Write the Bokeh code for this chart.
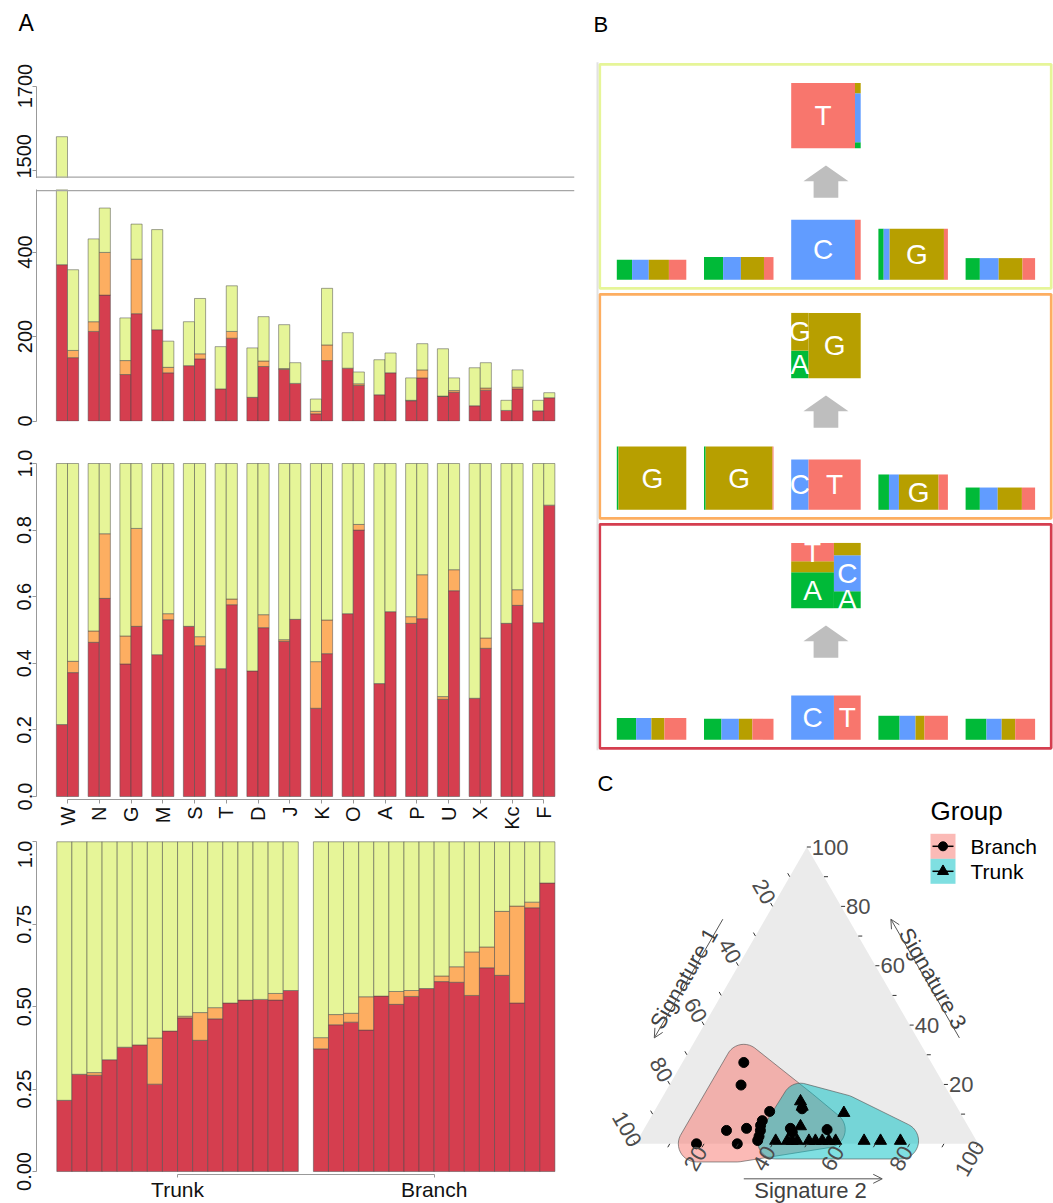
import math
from bokeh.plotting import figure
from bokeh.layouts import row, column
from bokeh.models import Span, FixedTicker, Range1d, ColumnDataSource, Arrow, OpenHead, PrintfTickFormatter
from bokeh.core.properties import value
from bokeh.embed import file_html
from bokeh.resources import INLINE

FONT = "Liberation Sans"
RED, ORANGE, GREEN = "#D53E4F", "#FDAE61", "#E6F598"

# ---------------- data: panel A ----------------
patients = ["W", "N", "G", "M", "S", "T", "D", "J", "K", "O", "A", "P", "U", "X", "Kc", "F"]

# mutation counts (segments: red / orange / green), trunk and branch bar of each patient
trunk_red_n = [370, 212, 110, 216, 131, 76, 56, 122, 17, 125, 62, 48, 58, 36, 25, 24]
trunk_orange_n = [0, 23, 33, 0, 0, 0, 0, 2, 6, 0, 0, 1, 1, 0, 0, 0]
trunk_green_n = [1210, 196, 101, 237, 104, 100, 117, 104, 29, 84, 83, 53, 112, 90, 24, 25]
branch_red_n = [150, 298, 254, 114, 147, 196, 129, 89, 143, 84, 114, 102, 68, 73, 76, 55]
branch_orange_n = [17, 101, 129, 13, 12, 16, 13, 0, 37, 4, 0, 19, 4, 5, 4, 0]
branch_green_n = [191, 105, 83, 62, 131, 108, 105, 49, 134, 28, 47, 62, 30, 60, 41, 12]

# proportions (green = remainder)
trunk_red_p = [0.216, 0.463, 0.398, 0.426, 0.511, 0.384, 0.377, 0.466, 0.265, 0.549, 0.339, 0.520, 0.292, 0.295, 0.520, 0.522]
trunk_orange_p = [0.0, 0.034, 0.084, 0.0, 0.0, 0.0, 0.0, 0.005, 0.140, 0.0, 0.0, 0.020, 0.008, 0.0, 0.0, 0.0]
branch_red_p = [0.372, 0.595, 0.511, 0.531, 0.453, 0.576, 0.507, 0.532, 0.429, 0.800, 0.555, 0.534, 0.618, 0.445, 0.574, 0.875]
branch_orange_p = [0.034, 0.194, 0.294, 0.018, 0.027, 0.017, 0.039, 0.0, 0.101, 0.017, 0.0, 0.132, 0.063, 0.031, 0.047, 0.0]

group_labels = ["Trunk", "Branch"]

# ---------------- data: panel B (sequence logos) ----------------
bases = ["A", "C", "G", "T"]
base_colors = {"A": "#00BA38", "C": "#619CFF", "G": "#B79F00", "T": "#F8766D"}
logo_heights = [
    [0.306, 0.348, 0.919, 0.781, 0.332],
    [0.969, 0.969, 0.770, 0.541, 0.341],
    [0.332, 0.322, 0.678, 0.368, 0.322],
]
logo_freqs = [
    [[0.22, 0.24, 0.29, 0.25], [0.275, 0.256, 0.332, 0.137], [0.0, 0.918, 0.0, 0.082],
     [0.076, 0.086, 0.781, 0.057], [0.205, 0.271, 0.343, 0.181]],
    [[0.024, 0.0, 0.976, 0.0], [0.024, 0.0, 0.962, 0.014], [0.0, 0.25, 0.0, 0.75],
     [0.152, 0.143, 0.571, 0.134], [0.205, 0.257, 0.348, 0.19]],
    [[0.278, 0.22, 0.187, 0.315], [0.251, 0.251, 0.194, 0.304], [0.0, 0.615, 0.0, 0.385],
     [0.305, 0.229, 0.129, 0.337], [0.30, 0.219, 0.195, 0.286]],
]
alt_freqs = [
    {"C": [0.0, 0.0, 0.0, 1.0], "T": [0.092, 0.75, 0.158, 0.0]},
    {"C": [0.423, 0.0, 0.577, 0.0], "T": [0.0, 0.0, 1.0, 0.0]},
    {"C": [0.551, 0.0, 0.168, 0.281], "T": [0.26, 0.551, 0.189, 0.0]},
]
logo_letters = [{3: ["C"], 4: ["G"]}, {1: ["G"], 2: ["G"], 3: ["C", "T"], 4: ["G"]}, {3: ["C", "T"]}]
alt_letters = [{"C": ["T"], "T": []}, {"C": ["A", "G"], "T": ["G"]}, {"C": ["A", "T"], "T": ["A", "C"]}]
box_colors = [GREEN, ORANGE, RED]

# ---------------- data: panel C (ternary, % signature 1/2/3) ----------------
branch_s1 = [54.7, 59.3, 55.4, 71.2, 65.0, 60.4, 61.3, 62.7, 63.8, 82.2, 70.3, 52.2, 52.3, 41.7, 45.5, 59.1]
branch_s2 = [17.9, 20.9, 33.7, 24.3, 29.8, 33.4, 34.2, 34.8, 35.1, 17.8, 29.7, 42.6, 43.8, 53.5, 42.7, 33.1]
branch_s3 = [27.4, 19.8, 10.9, 4.5, 5.2, 6.2, 4.5, 2.5, 1.1, 0.0, 0.0, 5.2, 3.9, 4.8, 11.8, 7.8]
trunk_s1 = [44.7, 45.1, 34.0, 48.9, 58.6, 55.2, 53.8, 52.3, 48.9, 47.0, 45.0, 43.1, 41.1, 32.8, 28.0, 22.2]
trunk_s2 = [41.0, 42.4, 55.6, 45.2, 40.4, 43.8, 45.2, 46.7, 50.1, 52.0, 54.0, 55.9, 57.9, 66.2, 71.0, 76.8]
trunk_s3 = [14.3, 12.5, 10.4, 5.9, 1.0, 1.0, 1.0, 1.0, 1.0, 1.0, 1.0, 1.0, 1.0, 1.0, 1.0, 1.0]
tern_ticks = [20, 40, 60, 80, 100]


# ---------------- helpers ----------------
def new_fig(width, height, xr, yr, left=0, right=0, top=0, bottom=0, xaxis=False, yaxis=False):
    p = figure(width=width, height=height, x_range=Range1d(*xr), y_range=Range1d(*yr),
               output_backend="svg", toolbar_location=None,
               x_axis_location="below" if xaxis else None,
               y_axis_location="left" if yaxis else None,
               min_border_left=left, min_border_right=right,
               min_border_top=top, min_border_bottom=bottom)
    p.xgrid.visible = False
    p.ygrid.visible = False
    p.outline_line_color = None
    p.background_fill_color = "white"
    p.border_fill_color = "white"
    return p


def style_axis(ax, orientation):
    ax.major_label_orientation = orientation
    ax.major_label_text_font = FONT
    ax.major_label_text_font_size = "20px"
    ax.major_label_text_color = "#111111"
    ax.axis_line_color = "#999999"
    ax.major_tick_line_color = "#999999"
    ax.minor_tick_line_color = None
    ax.major_tick_out = 4
    ax.major_tick_in = 0
    ax.major_label_standoff = 1


def stack(xs, segs):
    x, b, t, c = [], [], [], []
    for i, xv in enumerate(xs):
        base = 0.0
        for vals, col in segs:
            v = vals[i]
            if v > 0:
                x.append(xv); b.append(base); t.append(base + v); c.append(col)
            base += v
    return dict(x=x, bottom=b, top=t, color=c)


def draw_bars(p, data, width):
    p.vbar(x="x", bottom="bottom", top="top", width=width, fill_color="color",
           line_color="#4a4a4a", line_alpha=0.5, line_width=1, source=ColumnDataSource(data))


def label_text(p, x, y, t, size="22px"):
    p.text(x=[x], y=[y], text=[t], text_font=value(FONT), text_font_size=size,
           text_color="black", text_align="left", text_baseline="middle")


n = len(patients)
idx = list(range(n))
BW = 0.35
trunk_x = [i - BW / 2 for i in idx]
branch_x = [i + BW / 2 for i in idx]
count_data = stack(trunk_x + branch_x,
                   [(trunk_red_n + branch_red_n, RED),
                    (trunk_orange_n + branch_orange_n, ORANGE),
                    (trunk_green_n + branch_green_n, GREEN)])
t_green_p = [1 - r - o for r, o in zip(trunk_red_p, trunk_orange_p)]
b_green_p = [1 - r - o for r, o in zip(branch_red_p, branch_orange_p)]
prop_data = stack(trunk_x + branch_x,
                  [(trunk_red_p + branch_red_p, RED),
                   (trunk_orange_p + branch_orange_p, ORANGE),
                   (t_green_p + b_green_p, GREEN)])

# ---------------- left column geometry ----------------
LW = 585
BL_, BR_ = 36, 11
FW = LW - BL_ - BR_             # frame width (px)
PAIR = 31.75                    # px per patient
x0 = -(67 - 36) / PAIR
XR = (x0, x0 + FW / PAIR)
K = 200 / 84.5                  # counts per px

# header with panel letter (as the figure title)
hdr = new_fig(LW, 60, XR, (0, 1), left=BL_, right=BR_, top=40)
hdr.title.text = "A"
hdr.title.text_font = FONT
hdr.title.text_font_size = "23px"
hdr.title.text_font_style = "normal"
hdr.title.text_color = "black"
hdr.title.align = "left"
hdr.title.offset = -18
hdr.title.standoff = 10

# upper part of broken count axis
up = new_fig(LW, 118, XR, (1500 - 8 * K, 1500 + 110 * K), left=BL_, right=BR_, yaxis=True)
draw_bars(up, count_data, BW)
style_axis(up.yaxis[0], "parallel")
up.yaxis[0].ticker = FixedTicker(ticks=[1500, 1700])
up.yaxis[0].bounds = (1500 - 8 * K, 1700)
up.add_layout(Span(location=1500 - 6.7 * K, dimension="width", line_color="#A6A6A6", line_width=1.3))

# lower part of broken count axis
low = new_fig(LW, 256, XR, (-0.5 * K, 231.5 * K), left=BL_, right=BR_, top=11, bottom=13, yaxis=True)
draw_bars(low, count_data, BW)
style_axis(low.yaxis[0], "parallel")
low.yaxis[0].ticker = FixedTicker(ticks=[0, 200, 400])
low.yaxis[0].bounds = (0, 231.5 * K)
low.add_layout(Span(location=230.3 * K, dimension="width", line_color="#A6A6A6", line_width=1.3))

# proportions per patient
mid = new_fig(LW, 406, XR, (-3 / 333, 336 / 333), left=BL_, right=BR_, top=26, bottom=41,
              xaxis=True, yaxis=True)
draw_bars(mid, prop_data, BW)
style_axis(mid.yaxis[0], "parallel")
mid.yaxis[0].ticker = FixedTicker(ticks=[0, 0.2, 0.4, 0.6, 0.8, 1])
mid.yaxis[0].formatter = PrintfTickFormatter(format="%.1f")
mid.yaxis[0].bounds = (0, 1)
style_axis(mid.xaxis[0], math.pi / 2)
mid.xaxis[0].ticker = FixedTicker(ticks=idx)
mid.xaxis[0].major_label_overrides = {i: patients[i] for i in idx}
mid.xaxis[0].bounds = (0, n - 1)
mid.xaxis[0].major_label_standoff = 3

# sorted proportions, trunk vs branch
t_order = sorted(idx, key=lambda i: trunk_red_p[i] + trunk_orange_p[i])
b_order = sorted(idx, key=lambda i: branch_red_p[i] + branch_orange_p[i])
SLOT = (554.4 - 56.3) / (2 * n + 1)
sx = [k + 0.5 for k in range(n)] + [n + 1 + k + 0.5 for k in range(n)]
sorted_data = stack(sx,
                    [([trunk_red_p[i] for i in t_order] + [branch_red_p[i] for i in b_order], RED),
                     ([trunk_orange_p[i] for i in t_order] + [branch_orange_p[i] for i in b_order], ORANGE),
                     ([t_green_p[i] for i in t_order] + [b_green_p[i] for i in b_order], GREEN)])
sx0 = -(56.3 - 36) / SLOT
bot = new_fig(LW, 363, (sx0, sx0 + FW / SLOT), (-3 / 332.7, 334 / 332.7), left=BL_, right=BR_,
              top=0, bottom=26, xaxis=True, yaxis=True)
draw_bars(bot, sorted_data, 1.0)
style_axis(bot.yaxis[0], "parallel")
bot.yaxis[0].ticker = FixedTicker(ticks=[0, 0.25, 0.5, 0.75, 1])
bot.yaxis[0].formatter = PrintfTickFormatter(format="%.2f")
bot.yaxis[0].major_label_overrides = {1: "1.0"}
bot.yaxis[0].bounds = (0, 1)
style_axis(bot.xaxis[0], "horizontal")
bot.xaxis[0].ticker = FixedTicker(ticks=[n / 2, n + 1 + n / 2])
bot.xaxis[0].major_label_overrides = {n // 2: group_labels[0], n + 1 + n // 2: group_labels[1]}
bot.xaxis[0].bounds = (n / 2, n + 1 + n / 2)
bot.xaxis[0].major_label_text_font_size = "21px"
bot.xaxis[0].major_tick_out = 3
bot.xaxis[0].major_label_standoff = 0

# ---------------- panel B ----------------
RW = 1053 - LW
UX, UY = 87.2, 65.3            # px per logo position / per height unit
STEP = 230 / UY                 # vertical distance between boxes
OX = LW                         # page x of the right column
bx0 = 1 - (651.05 - OX) / UX
by1 = 279.3 / UY
BH = 759
pb = new_fig(RW, BH, (bx0, bx0 + RW / UX), (by1 - BH / UY, by1))
LOGO_W = 69.5 / UX
quads = dict(left=[], right=[], bottom=[], top=[], color=[])
letters = dict(x=[], y=[], t=[])
for j in range(3):
    y0 = -j * STEP
    for k in range(5):
        pos = k + 1
        h = logo_heights[j][k]
        left = pos - LOGO_W / 2
        for b, f in zip(bases, logo_freqs[j][k]):
            if f <= 0:
                continue
            w = f * LOGO_W
            quads["left"].append(left); quads["right"].append(left + w)
            quads["bottom"].append(y0); quads["top"].append(y0 + h)
            quads["color"].append(base_colors[b])
            if b in logo_letters[j].get(pos, []):
                letters["x"].append(left + w / 2); letters["y"].append(y0 + h / 2); letters["t"].append(b)
            left += w
    # mutated-base logo above the arrow
    fc = logo_freqs[j][2][1]
    ft = logo_freqs[j][2][3]
    tb = y0 + 2.015
    left = 3 - LOGO_W / 2
    for ref, f in (("C", fc / (fc + ft)), ("T", ft / (fc + ft))):
        w = f * LOGO_W
        base = tb
        for b, g in zip(bases, alt_freqs[j][ref]):
            if g <= 0:
                continue
            quads["left"].append(left); quads["right"].append(left + w)
            quads["bottom"].append(base); quads["top"].append(base + g)
            quads["color"].append(base_colors[b])
            if b in alt_letters[j][ref]:
                letters["x"].append(left + w / 2); letters["y"].append(base + g / 2); letters["t"].append(b)
            base += g
        left += w
    # arrow
    hw, sw = 22.5 / UX, 12.35 / UX
    pb.patch([3 - sw, 3 - sw, 3 - hw, 3, 3 + hw, 3 + sw, 3 + sw],
             [y0 + 1.256, y0 + 1.51, y0 + 1.51, y0 + 1.75, y0 + 1.51, y0 + 1.51, y0 + 1.256],
             fill_color="#BEBEBE", line_color=None)
pb.quad(left="left", right="right", bottom="bottom", top="top", fill_color="color",
        line_color=None, source=ColumnDataSource(quads))
pb.text(x="x", y="y", text="t", source=ColumnDataSource(letters), text_color="white",
        text_font=value(FONT), text_font_size="28px", text_align="center", text_baseline="middle")
bleft, bright = 1 + (599.3 - 651.05) / UX, 1 + (1050.7 - 651.05) / UX
pb.quad(left=[bleft] * 3, right=[bright] * 3,
        bottom=[-j * STEP - 0.13 for j in range(3)], top=[-j * STEP + 3.30 for j in range(3)],
        fill_color=None, line_color=box_colors, line_width=2.7)
gx = 1 + (597 - 651.05) / UX
pb.segment(x0=[gx], x1=[gx], y0=[3.33], y1=[-2 * STEP - 0.16], line_color="#E2E2E2", line_width=2)
label_text(pb, 1 + (593 - 651.05) / UX, by1 - 24 / UY, "B")

# ---------------- panel C (ternary) ----------------
TS = 342.7
S3 = math.sqrt(3) / 2
CY0 = BH
CH = 1203 - CY0
cx0, cy0 = (OX - 635) / TS, (1143.3 - 1203) / TS
pc = new_fig(RW, CH, (cx0, cx0 + RW / TS), (cy0, cy0 + CH / TS))


def cart(s1, s2, s3):
    tot = s1 + s2 + s3
    return (s2 + 0.5 * s3) / tot, S3 * s3 / tot


def hull(points):
    pts = sorted(set(points))
    def cross(o, a, b):
        return (a[0] - o[0]) * (b[1] - o[1]) - (a[1] - o[1]) * (b[0] - o[0])
    lower, upper = [], []
    for p_ in pts:
        while len(lower) >= 2 and cross(lower[-2], lower[-1], p_) <= 0:
            lower.pop()
        lower.append(p_)
    for p_ in reversed(pts):
        while len(upper) >= 2 and cross(upper[-2], upper[-1], p_) <= 0:
            upper.pop()
        upper.append(p_)
    return lower[:-1] + upper[:-1]


def encircle(xs, ys, r=0.053, m=40):
    pts = []
    for x, y in zip(xs, ys):
        for k in range(m):
            a = 2 * math.pi * k / m
            pts.append((x + r * math.cos(a), y + r * math.sin(a)))
    h = hull(pts)
    return [q[0] for q in h], [q[1] for q in h]


pc.patch([0, 1, 0.5], [0, 0, S3], fill_color="#EBEBEB", line_color=None)
bxy = [cart(a, b, c) for a, b, c in zip(branch_s1, branch_s2, branch_s3)]
txy = [cart(a, b, c) for a, b, c in zip(trunk_s1, trunk_s2, trunk_s3)]
bx, by = [q[0] for q in bxy], [q[1] for q in bxy]
tx, ty = [q[0] for q in txy], [q[1] for q in txy]
hx, hy = encircle(bx, by)
pc.patch(hx, hy, fill_color="#F8766D", fill_alpha=0.5, line_color="#555555", line_width=0.8, line_alpha=0.8)
hx, hy = encircle(tx, ty)
pc.patch(hx, hy, fill_color="#00BFC4", fill_alpha=0.5, line_color="#555555", line_width=0.8, line_alpha=0.8)
pc.scatter(bx, by, marker="circle", size=10, color="black")
pc.scatter(tx, ty, marker="triangle", size=12, color="black")

# ternary ticks and labels
TL = 4 / TS
OFF = 17 / TS
d_left, d_bot, d_right = (-0.5, S3), (-0.5, -S3), (1.0, 0.0)
seg = dict(x0=[], y0=[], x1=[], y1=[])
for v in range(10, 101, 10):
    f = v / 100
    for (px_, py_), d in (((0.5 * (1 - f), S3 * (1 - f)), d_left), ((f, 0.0), d_bot),
                          ((1 - 0.5 * f, S3 * f), d_right)):
        seg["x0"].append(px_); seg["y0"].append(py_)
        seg["x1"].append(px_ + d[0] * TL); seg["y1"].append(py_ + d[1] * TL)
pc.segment(x0="x0", y0="y0", x1="x1", y1="y1", source=ColumnDataSource(seg), line_color="#333333", line_width=1)
lab_kw = dict(text_font=value(FONT), text_font_size="22px", text_color="#4D4D4D", text_baseline="middle")
fs = [v / 100 for v in tern_ticks]
txt = [str(v) for v in tern_ticks]
pc.text(x=[0.5 * (1 - f) + d_left[0] * OFF for f in fs], y=[S3 * (1 - f) + d_left[1] * OFF for f in fs],
        text=txt, angle=-math.pi / 3, text_align="center", **lab_kw)
pc.text(x=[f + d_bot[0] * OFF for f in fs], y=[d_bot[1] * OFF for f in fs],
        text=txt, angle=math.pi / 3, text_align="center", **lab_kw)
pc.text(x=[1 - 0.5 * f + 5 / TS for f in fs], y=[S3 * f for f in fs],
        text=txt, text_align="left", **lab_kw)

# axis titles with arrows
AO, T0, T1 = 0.107, 0.295, 0.695
def along_left(t, o):   # t: 0 at top vertex -> 1 at bottom-left; o: outward offset
    return 0.5 * (1 - t) - S3 * o, S3 * (1 - t) + 0.5 * o
def along_right(t, o):  # t: 0 at bottom-right -> 1 at top
    return 1 - 0.5 * t + S3 * o, S3 * t + 0.5 * o
arrow_kw = dict(line_color="#555555", line_width=1)
a0, a1 = along_left(1 - T1, AO), along_left(1 - T0, AO)
pc.add_layout(Arrow(end=OpenHead(size=9, line_color="#555555", line_width=1),
                    x_start=a0[0], y_start=a0[1], x_end=a1[0], y_end=a1[1], **arrow_kw))
a0, a1 = along_right(T0, AO), along_right(T1, AO)
pc.add_layout(Arrow(end=OpenHead(size=9, line_color="#555555", line_width=1),
                    x_start=a0[0], y_start=a0[1], x_end=a1[0], y_end=a1[1], **arrow_kw))
pc.add_layout(Arrow(end=OpenHead(size=9, line_color="#555555", line_width=1),
                    x_start=0.316, y_start=-0.1022, x_end=0.72, y_end=-0.1022, **arrow_kw))
title_kw = dict(text_font=value(FONT), text_font_size="22px", text_color="#404040",
                text_align="center", text_baseline="middle")
p1 = along_left(0.512, 0.1186)
p3 = along_right(0.484, 0.1263)
pc.text(x=[p1[0]], y=[p1[1]], text=["Signature 1"], angle=math.pi / 3, **title_kw)
pc.text(x=[p3[0]], y=[p3[1]], text=["Signature 3"], angle=-math.pi / 3, **title_kw)
pc.text(x=[0.5106], y=[-0.1357], text=["Signature 2"], **title_kw)

# legend
lx0, lx1 = (930 - 635) / TS, (955 - 635) / TS
ky = [(1143.3 - 858.3) / TS, (1143.3 - 833.3) / TS, (1143.3 - 883.3) / TS]
pc.quad(left=[lx0, lx0], right=[lx1, lx1], bottom=[ky[0], ky[2]], top=[ky[1], ky[0]],
        fill_color=["#F8766D", "#00BFC4"], fill_alpha=0.5, line_color=None)
kc = [(ky[0] + ky[1]) / 2, (ky[0] + ky[2]) / 2]
pc.segment(x0=[lx0 + 2 / TS] * 2, x1=[lx1 - 2 / TS] * 2, y0=kc, y1=kc, line_color="black", line_width=1.5)
pc.scatter([(lx0 + lx1) / 2], [kc[0]], marker="circle", size=9, color="black")
pc.scatter([(lx0 + lx1) / 2], [kc[1]], marker="triangle", size=11, color="black")
pc.text(x=[(970 - 635) / TS] * 2, y=kc, text=["Branch", "Trunk"], text_font=value(FONT),
        text_font_size="21px", text_color="black", text_align="left", text_baseline="middle")
label_text(pc, lx0, (1143.3 - 810) / TS, "Group", size="26px")
label_text(pc, (597 - 635) / TS, (1143.3 - 783) / TS, "C")

layout = row(column(hdr, up, low, mid, bot), column(pb, pc))
open("out.html", "w").write(file_html(layout, INLINE))
